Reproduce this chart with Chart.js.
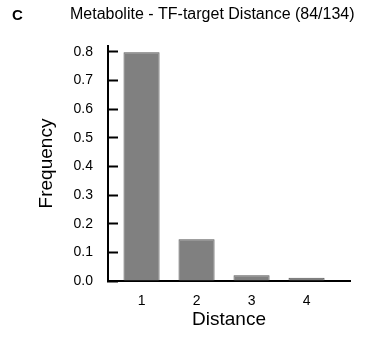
<!DOCTYPE html>
<html>
<head>
<meta charset="utf-8">
<script src="https://cdn.jsdelivr.net/npm/chart.js@4"></script>
<style>
  html, body { margin: 0; padding: 0; background: #fff; }
  #wrap { width: 367px; height: 343px; }
</style>
</head>
<body>
<div id="wrap"><canvas id="distChart" width="367" height="343"></canvas></div>
<script>
// distance categories and frequencies
const distances = [1, 2, 3, 4];
const frequency = [0.798, 0.146, 0.020, 0.011];
const yTicks = [0, 0.1, 0.2, 0.3, 0.4, 0.5, 0.6, 0.7, 0.8];

const panelLabel = {
    id: 'panelLabel',
    afterDraw(chart) {
        const { ctx } = chart;
        ctx.save();
        ctx.fillStyle = '#000';
        ctx.textBaseline = 'middle';
        ctx.textAlign = 'left';
        ctx.font = 'bold 15px "Liberation Sans", Arial, sans-serif';
        ctx.fillText('C', 12, 16);
        ctx.font = '16px "Liberation Sans", Arial, sans-serif';
        ctx.fillText('Metabolite - TF-target Distance (84/134)', 70, 15);
        ctx.restore();
    }
};

const ctx = document.getElementById('distChart').getContext('2d');
new Chart(ctx, {
    type: 'bar',
    data: {
        datasets: [{
            data: distances.map((d, i) => ({ x: d, y: frequency[i] })),
            backgroundColor: '#808080',
            borderColor: '#555555',
            borderWidth: 1,
            barPercentage: 0.8,
            categoryPercentage: 0.82,
        }]
    },
    options: {
        responsive: false,
        animation: false,
        layout: { padding: { top: 46, right: 17, left: 0, bottom: 0 } },
        plugins: {
            legend: { display: false },
            tooltip: { enabled: false },
        },
        scales: {
            x: {
                type: 'linear',
                offset: false,
                min: 0.39,
                max: 4.79,
                afterBuildTicks: (s) => { s.ticks = distances.map(v => ({ value: v })); },
                afterFit: (s) => { s.height = 62; },
                grid: { display: false, drawTicks: false },
                border: { display: true, color: '#000', width: 2 },
                ticks: {
                    color: '#000',
                    padding: 12,
                    font: { family: '"Liberation Sans", Arial, sans-serif', size: 14 },
                    callback: (v) => String(v),
                },
                title: {
                    display: true,
                    text: 'Distance',
                    color: '#000',
                    font: { family: '"Liberation Sans", Arial, sans-serif', size: 19 },
                    padding: { top: 0, bottom: 12 },
                },
            },
            y: {
                min: 0,
                max: 0.82,
                afterBuildTicks: (s) => { s.ticks = yTicks.map(v => ({ value: v })); },
                afterFit: (s) => { s.width = 108; },
                grid: {
                    drawOnChartArea: false,
                    drawTicks: true,
                    tickLength: -10,
                    color: '#000',
                    tickWidth: 2,
                },
                border: { display: true, color: '#000', width: 2 },
                ticks: {
                    color: '#000',
                    padding: 25,
                    font: { family: '"Liberation Sans", Arial, sans-serif', size: 14 },
                    callback: (v) => v.toFixed(1),
                },
                title: {
                    display: true,
                    text: 'Frequency',
                    color: '#000',
                    font: { family: '"Liberation Sans", Arial, sans-serif', size: 19 },
                    padding: { top: 35, bottom: 0 },
                },
            }
        }
    },
    plugins: [panelLabel]
});
</script>
</body>
</html>
